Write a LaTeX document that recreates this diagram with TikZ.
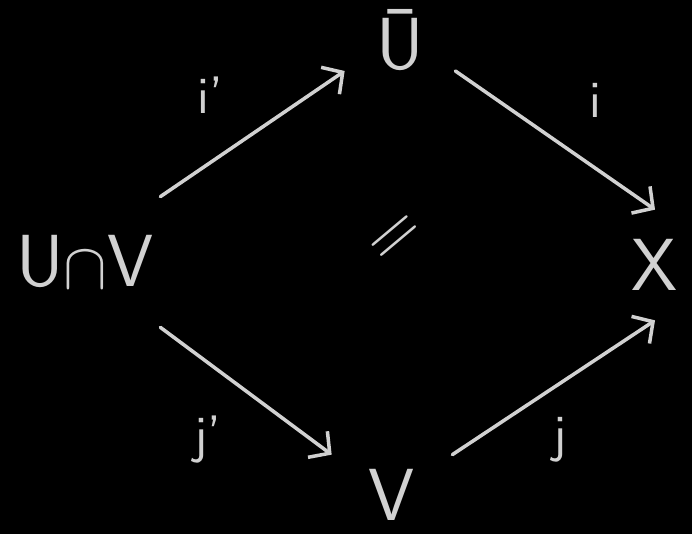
\documentclass[tikz,border=0pt]{standalone}
\usetikzlibrary{arrows.meta}
\begin{document}
\begin{tikzpicture}[
  chalk/.style={color=black!18!white},
  obj/.style={chalk, inner sep=0pt, font=\sffamily\fontsize{42}{48}\selectfont},
  lbl/.style={chalk, inner sep=0pt, font=\sffamily\fontsize{30}{34}\selectfont},
  map/.style={chalk, line width=2pt, line cap=round, -{Straight Barb[length=3mm, width=6.5mm, line width=2pt]}}
]
\fill[black] (0,0) rectangle (13.84,10.68);
\useasboundingbox (0,0) rectangle (13.84,10.68);
\node[obj, minimum width=3cm, minimum height=2.6cm] (uv) at (1.70,5.44) {U\raisebox{-0.02em}{\scalebox{1.5}{$\cap$}}V};
\node[obj, minimum width=2.2cm, minimum height=1.0cm] (ubar) at (8.00,9.88) {Ū};
\node[obj, minimum height=2.2cm] (x) at (13.10,5.38) {X};
\node[obj, minimum width=2.4cm, minimum height=1.6cm] (v) at (7.84,0.78) {V};
\node[lbl] (ip) at (4.20,8.78) {i'};
\node[lbl] (i) at (11.90,8.68) {i};
\node[lbl] (jp) at (4.16,1.88) {j'};
\node[lbl] (j) at (11.20,1.88) {j};
\node[obj, rotate=40] (eq) at (7.96,5.88) {=};
\draw[map] (uv.north east) -- (ubar.south west);
\draw[map] (ubar.south east) -- (x.north);
\draw[map] (uv.south east) -- (v.north west);
\draw[map] (v.north east) -- (x.south);
\end{tikzpicture}
\end{document}
